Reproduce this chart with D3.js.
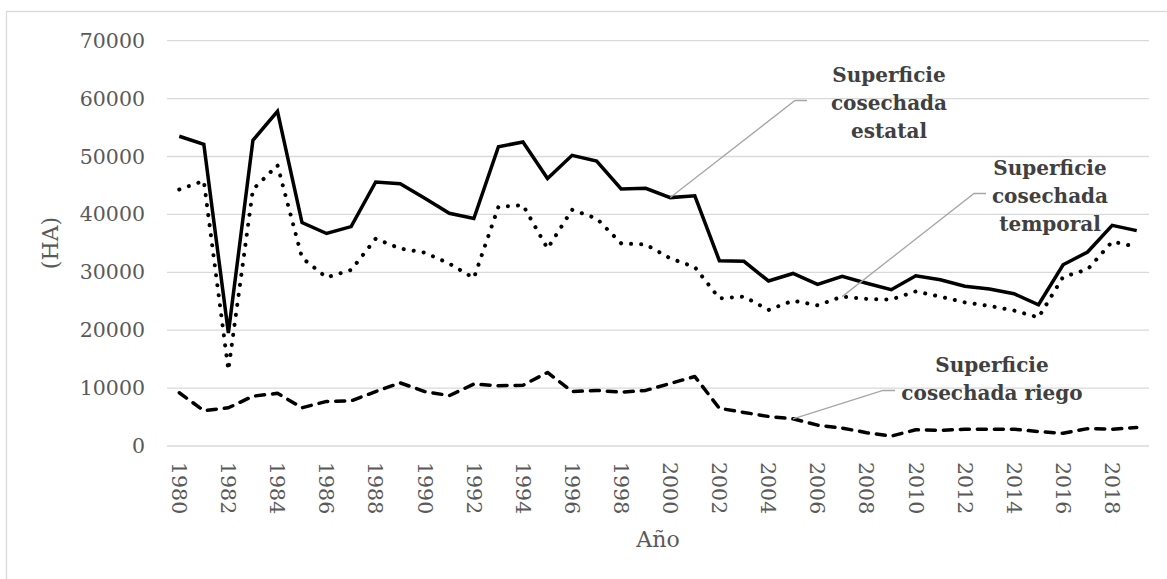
<!DOCTYPE html>
<html><head><meta charset="utf-8">
<script src="https://cdn.jsdelivr.net/npm/d3@7"></script>
<style>
html,body{margin:0;padding:0;background:#fff;}
svg{display:block;font-family:"DejaVu Serif",serif;}
</style></head>
<body>
<svg id="c" width="1167" height="579"></svg>
<script>
const years = d3.range(1980, 2020);
const tickYears = d3.range(1980, 2020, 2);
const yTicks = [0,10000,20000,30000,40000,50000,60000,70000];
const estatal = [53500,52100,19500,52800,57800,38600,36700,37900,45600,45300,
                 42800,40200,39300,51700,52500,46200,50200,49200,44400,44500,
                 42900,43200,32000,31900,28500,29800,27900,29300,28100,27000,
                 29400,28700,27600,27100,26300,24400,31300,33500,38100,37200];
const temporal = [44300,45800,13100,44300,48500,32500,29100,30400,35800,34100,
                  33400,31500,29000,41300,41600,34100,40800,39300,35000,34800,
                  32400,30900,25500,25800,23500,25100,24300,25800,25400,25300,
                  26700,25800,24800,24200,23400,22200,29200,30500,35300,34400];
const riego = [9200,6100,6600,8600,9100,6600,7700,7800,9400,10900,
               9400,8700,10700,10400,10500,12700,9400,9600,9300,9600,
               10800,12000,6500,5800,5100,4700,3600,3100,2300,1700,
               2800,2700,2900,2900,2900,2500,2200,3000,2900,3200];
const labels = [
  {lines:["Superficie","cosechada","estatal"], series:"estatal", year:2000, cx:889, y0:82, elbow:[807,795]},
  {lines:["Superficie","cosechada","temporal"], series:"temporal", year:2007, cx:1050, y0:175, elbow:[986,974]},
  {lines:["Superficie","cosechada riego"], series:"riego", year:2005, cx:992, y0:372, elbow:[895,883]}
];

const svg = d3.select("#c");
const L = 167, R = 1149, T = 40.7, B = 446;
const x = d3.scaleBand().domain(years).range([L, R]);
const xc = yr => x(yr) + x.bandwidth()/2;
const y = d3.scaleLinear().domain([0,70000]).range([B, T]);

// outer border
svg.append("rect").attr("x",6.5).attr("y",11.5).attr("width",1200).attr("height",600)
  .attr("fill","none").attr("stroke","#d9d9d9").attr("stroke-width",1.3);

// gridlines
svg.append("g").selectAll("line").data(yTicks).join("line")
  .attr("x1",L).attr("x2",R).attr("y1",d=>y(d)).attr("y2",d=>y(d))
  .attr("stroke","#d9d9d9").attr("stroke-width",1.3);

// y axis labels
const yAxis = d3.axisLeft(y).tickValues(yTicks).tickSize(0).tickPadding(22).tickFormat(d3.format("d"));
const gy = svg.append("g").attr("transform",`translate(${L},0)`).call(yAxis);
gy.select(".domain").remove();
gy.selectAll("text").attr("fill","#595959").style("font-size","20.5px").style("font-family","DejaVu Serif");

// x axis labels
const xAxis = d3.axisBottom(x).tickValues(tickYears).tickSize(0).tickPadding(0);
const gx = svg.append("g").attr("transform",`translate(0,${B})`).call(xAxis);
gx.select(".domain").remove();
gx.selectAll("text").attr("fill","#595959").style("font-size","20.5px").style("font-family","DejaVu Serif")
  .attr("transform","rotate(90)").attr("text-anchor","start").attr("x",16).attr("y",0).attr("dy","0.35em");

// axis titles
svg.append("text").attr("x",658).attr("y",547).attr("text-anchor","middle")
  .attr("fill","#595959").style("font-size","22px").text("Año");
svg.append("text").attr("transform","translate(58,243) rotate(-90)").attr("text-anchor","middle")
  .attr("fill","#595959").style("font-size","22px").text("(HA)");

// lines
const series = {estatal, temporal, riego};
const line = d3.line().x((d,i)=>xc(years[i])).y(d=>y(d));
svg.append("path").datum(riego).attr("d",line).attr("fill","none").attr("stroke","#000")
  .attr("stroke-width",3.5).attr("stroke-dasharray","9 8").attr("stroke-linecap","round").attr("stroke-linejoin","round");
svg.append("path").datum(temporal).attr("d",line).attr("fill","none").attr("stroke","#000")
  .attr("stroke-width",4).attr("stroke-dasharray","0.1 10").attr("stroke-linecap","round");
svg.append("path").datum(estatal).attr("d",line).attr("fill","none").attr("stroke","#000")
  .attr("stroke-width",3.5).attr("stroke-linejoin","miter");

// annotations
labels.forEach(lb => {
  const i = years.indexOf(lb.year);
  const px = xc(lb.year), py = y(series[lb.series][i]);
  const ey = lb.y0 + 18.5;
  svg.append("polyline")
    .attr("points", `${lb.elbow[0]},${ey} ${lb.elbow[1]},${ey} ${px},${py}`)
    .attr("fill","none").attr("stroke","#a6a6a6").attr("stroke-width",1.3);
  const t = svg.append("text").attr("text-anchor","middle").attr("fill","#404040")
    .style("font-size","20px").style("font-weight","bold");
  lb.lines.forEach((s,k)=> t.append("tspan").attr("x",lb.cx).attr("y",lb.y0 + k*28).text(s));
});
</script>
</body></html>
